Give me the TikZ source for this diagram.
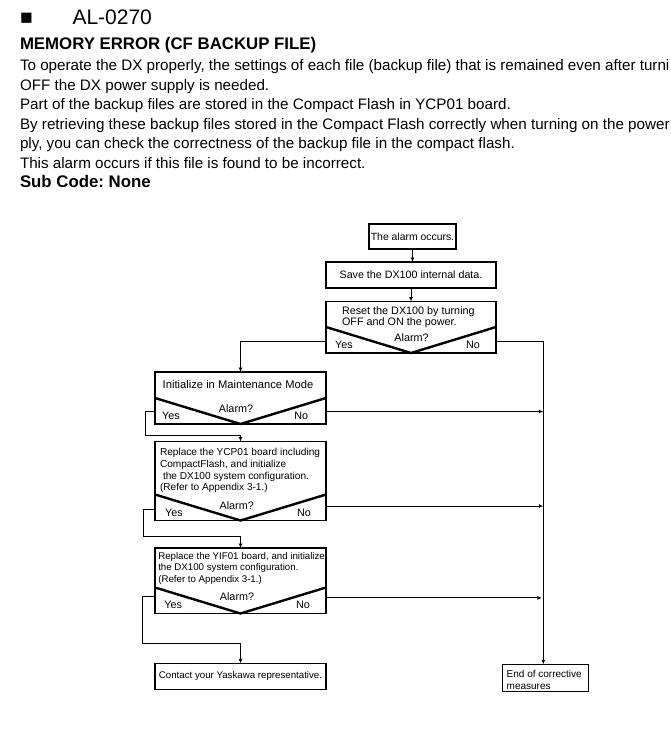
\documentclass[tikz,border=0pt]{standalone}
\usepackage{fontspec}
\setmainfont{Liberation Sans}
\usetikzlibrary{arrows.meta,calc}
\begin{document}
\frenchspacing
\begin{tikzpicture}[x=1pt,y=-1pt,
  every node/.style={inner sep=0pt, outer sep=0pt},
  box/.style={draw, line width=1.1pt},
  sz/.style={font=\fontsize{#1}{13}\selectfont},
  body/.style={anchor=base west, font=\fontsize{15.2}{18}\selectfont},
  lbl/.style={anchor=base west, font=\fontsize{10.8}{13}\selectfont},
  conn/.style={line width=0.9pt, -{Latex[length=4.5pt,width=4pt]}},
  vline/.style={line width=2.4pt, line join=miter}]
\clip (0,0) rectangle (671,747);
\fill[white] (0,0) rectangle (671,747);
% header
\node[anchor=base west, font=\fontsize{21}{24}\selectfont] (sq) at (20,24) {■};
\node[anchor=base west, font=\fontsize{21}{24}\selectfont] (code) at (72.5,24) {AL-0270};
\node[anchor=base west, font=\fontsize{16.8}{19}\selectfont\bfseries] (title) at (20,49.5) {MEMORY ERROR (CF BACKUP FILE)};
\node[body] (l1) at (20,70.5) {To operate the DX properly, the settings of each file (backup file) that is remained even after turni};
\node[body] (l2) at (20,90) {OFF the DX power supply is needed.};
\node[body] (l3) at (20,109.5) {Part of the backup files are stored in the Compact Flash in YCP01 board.};
\node[body] (l4) at (20,129) {By retrieving these backup files stored in the Compact Flash correctly when turning on the power};
\node[body] (l5) at (20,148.5) {ply, you can check the correctness of the backup file in the compact flash.};
\node[body] (l6) at (20,168) {This alarm occurs if this file is found to be incorrect.};
\node[anchor=base west, font=\fontsize{16.8}{19}\selectfont\bfseries] (sub) at (20,187.5) {Sub Code: None};
% boxes
\node[box, sz=10.4, minimum width=87pt, minimum height=25pt] (A) at (412.5,236.5) {The alarm occurs.};
\node[box, sz=10.7, minimum width=170pt, minimum height=26pt] (B) at (411,275) {Save the DX100 internal data.};
\node[box, minimum width=170pt, minimum height=51.5pt] (C) at (411,327.25) {};
\node[box, minimum width=171pt, minimum height=52pt] (D) at (240.5,398) {};
\node[box, minimum width=171pt, minimum height=79pt] (E) at (240.5,481) {};
\node[box, minimum width=171pt, minimum height=65.5pt] (F) at (240.5,580.75) {};
\node[box, sz=9.7, minimum width=171pt, minimum height=26pt] (G) at (240.5,676.3) {Contact your Yaskawa representative.};
\node[box, minimum width=86pt, minimum height=27.4pt] (H) at (545.3,678) {};
% V shapes
\foreach \n in {C,D,E,F}{
  \draw[vline] ($(\n.south west)+(0,-26)$) -- (\n.south) -- ($(\n.south east)+(0,-26)$);
}
% texts in boxes
\node[lbl, sz=10.8] (c1) at (342,314) {Reset the DX100 by turning};
\node[lbl, sz=10.8] (c2) at (342,325) {OFF and ON the power.};
\node[lbl, anchor=base] (ca) at (411.5,341) {Alarm?};
\node[lbl, anchor=base] (cy) at (344,348) {Yes};
\node[lbl, anchor=base] (cn) at (473,348) {No};
\node[lbl, sz=11.2] (d1) at (162.7,388.3) {Initialize in Maintenance Mode};
\node[lbl, anchor=base] (da) at (236,412) {Alarm?};
\node[lbl, anchor=base] (dy) at (171,419) {Yes};
\node[lbl, anchor=base] (dn) at (301.3,419) {No};
\node[lbl, sz=10.1] (e1) at (160,455.7) {Replace the YCP01 board including};
\node[lbl, sz=10.1] (e2) at (160,467.3) {CompactFlash, and initialize};
\node[lbl, sz=10.1] (e3) at (163,479) {the DX100 system configuration.};
\node[lbl, sz=10.1] (e4) at (160,490.7) {(Refer to Appendix 3-1.)};
\node[lbl, anchor=base] (ea) at (236.7,509) {Alarm?};
\node[lbl, anchor=base] (ey) at (174,516.7) {Yes};
\node[lbl, anchor=base] (en) at (304,516.7) {No};
\node[lbl, sz=9.7] (f1) at (158.3,559.7) {Replace the YIF01 board, and initialize};
\node[lbl, sz=9.7] (f2) at (158.3,570.7) {the DX100 system configuration.};
\node[lbl, sz=9.7] (f3) at (158.3,582.3) {(Refer to Appendix 3-1.)};
\node[lbl, anchor=base] (fa) at (237,600) {Alarm?};
\node[lbl, anchor=base] (fy) at (173.3,608) {Yes};
\node[lbl, anchor=base] (fn) at (303,608) {No};
\node[lbl, sz=10] (h1) at (506.7,677.3) {End of corrective};
\node[lbl, sz=10] (h2) at (506.7,689.3) {measures};
% connectors
\coordinate (rx) at (543.3,0);
\draw[conn] (A.south) -- (A.south |- B.north);
\draw[conn] (B.south) -- (C.north);
\draw[conn] ($(C.south west)+(0,-12)$) -| (D.north);
\coordinate (cno) at ($(C.south east)+(0,-12)$);
\draw[conn] (cno) -| (rx |- H.north);
\coordinate (dno) at ($(D.south east)+(0,-12.5)$);
\draw[conn] (dno) -- (rx |- dno);
\draw[conn] ($(D.south west)+(0,-12.5)$) -- ++(-9.3,0) |- ($(E.north)+(0,-6.5)$) -- (E.north);
\coordinate (eno) at ($(E.south east)+(0,-14.5)$);
\draw[conn] (eno) -- (rx |- eno);
\draw[conn] ($(E.south west)+(0,-11.5)$) -- ++(-11.7,0) |- ($(F.north)+(0,-12)$) -- (F.north);
\coordinate (fno) at ($(F.south east)+(0,-15.6)$);
\draw[conn] (fno) -- ($(rx |- fno)+(-1.5,0)$);
\draw[conn] ($(F.south west)+(0,-17.3)$) -- ++(-12.7,0) |- ($(G.north)+(0,-20)$) -- (G.north);
\end{tikzpicture}
\end{document}
